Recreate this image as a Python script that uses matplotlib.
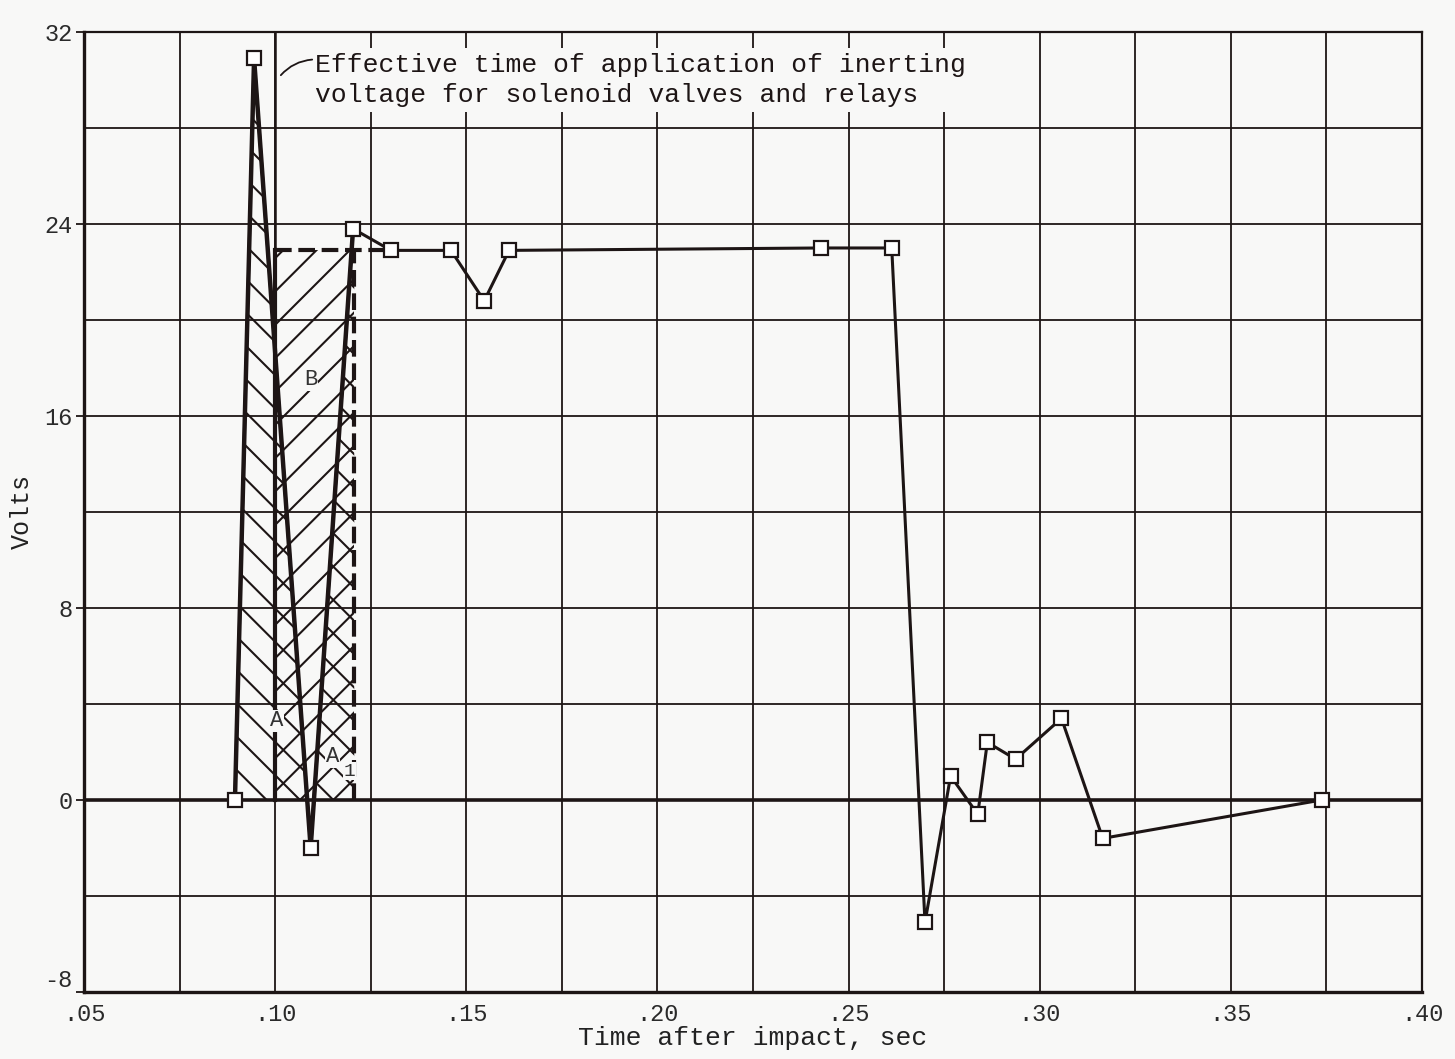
import numpy as np
import matplotlib
matplotlib.use("Agg")
import matplotlib.pyplot as plt
from matplotlib.patches import Polygon, Rectangle

# Voltage measured across the inerting circuit after impact
time_s = [0.0895, 0.0945, 0.1093, 0.1204, 0.1303, 0.1460, 0.1547, 0.1612,
          0.2428, 0.2613, 0.2700, 0.2767, 0.2838, 0.2863, 0.2937, 0.3057,
          0.3165, 0.3738]
volts = [0.0, 30.9, -2.0, 23.8, 22.9, 22.9, 20.8, 22.9,
         23.0, 23.0, -5.1, 1.0, -0.6, 2.4, 1.7, 3.4,
         -1.6, 0.0]

# Equivalent rectangular pulse (area B) starting at the effective time
t_effective = 0.10
t_pulse_end = 0.1207
v_pulse = 22.9

x_ticks = [0.05, 0.10, 0.15, 0.20, 0.25, 0.30, 0.35, 0.40]
x_tick_labels = [".05", ".10", ".15", ".20", ".25", ".30", ".35", ".40"]
y_ticks = [-8, 0, 8, 16, 24, 32]
y_tick_labels = ["-8", "0", "8", "16", "24", "32"]
x_label = "Time after impact, sec"
y_label = "Volts"
note = ("Effective time of application of inerting\n"
        "voltage for solenoid valves and relays")

INK = "#1d1515"
PAPER = "#f8f8f7"
MONO = "Liberation Mono"

plt.rcParams["font.family"] = [MONO, "DejaVu Sans Mono"]
plt.rcParams["hatch.linewidth"] = 1.5

fig = plt.figure(figsize=(14.55, 10.59), dpi=100, facecolor=PAPER)
ax = fig.add_axes([0.0577, 0.0633, 0.9196, 0.9065], facecolor=PAPER)
ax.set_xlim(0.05, 0.40)
ax.set_ylim(-8, 32)

# graph-paper grid
ax.set_xticks(x_ticks)
ax.set_xticklabels(x_tick_labels)
ax.set_xticks(np.arange(0.075, 0.40, 0.05), minor=True)
ax.set_yticks(y_ticks)
ax.set_yticklabels(y_tick_labels)
ax.set_yticks(np.arange(-4, 32, 8), minor=True)
ax.grid(which="both", color=INK, linewidth=1.3, zorder=1)
ax.set_axisbelow(True)
ax.tick_params(axis="x", which="both", length=0, pad=8,
               labelsize=17, labelcolor="#2a2a2a")
ax.tick_params(axis="y", which="major", length=6, width=1.3, color=INK,
               pad=2, labelsize=17, labelcolor="#2a2a2a")
ax.tick_params(axis="y", which="minor", length=0)
# lift the lowest volt label a little clear of the time labels
ax.get_yticklabels()[0].set_verticalalignment("bottom")
for side, lw in (("left", 2.4), ("bottom", 2.4), ("top", 1.6), ("right", 1.6)):
    ax.spines[side].set_color(INK)
    ax.spines[side].set_linewidth(lw)

ax.axhline(0, color=INK, linewidth=2.6, zorder=2)

# Area A: the initial voltage spike
t_cross = np.interp(0.0, [volts[2], volts[1]], [time_s[2], time_s[1]])
area_a = Polygon([(time_s[0], 0.0), (time_s[1], volts[1]), (t_cross, 0.0)],
                 closed=True, fill=False, hatch="\\", edgecolor=INK,
                 linewidth=0, zorder=3)
ax.add_patch(area_a)

# Area B: equivalent rectangular pulse
area_b = Rectangle((t_effective, 0.0), t_pulse_end - t_effective, v_pulse,
                   fill=False, hatch="/", edgecolor=INK, linewidth=0, zorder=3)
ax.add_patch(area_b)

# Area A1: rise of the supply voltage before the end of the pulse
t_rise0 = np.interp(0.0, [volts[2], volts[3]], [time_s[2], time_s[3]])
t_rise1 = np.interp(v_pulse, [volts[2], volts[3]], [time_s[2], time_s[3]])
area_a1 = Polygon([(t_rise0, 0.0), (t_rise1, v_pulse),
                   (t_pulse_end, v_pulse), (t_pulse_end, 0.0)],
                  closed=True, fill=False, hatch="\\", edgecolor=INK,
                  linewidth=0, zorder=3)
ax.add_patch(area_a1)

# effective-time line and pulse outline
ax.plot([t_effective, t_effective], [0, 32], color=INK, linewidth=1.8, zorder=4)
ax.plot([t_effective, t_effective], [0, v_pulse], color=INK, linewidth=3.0,
        zorder=4)
ax.plot([t_effective, time_s[4]], [v_pulse, v_pulse], color=INK,
        linewidth=3.0, linestyle=(0, (4, 1.6)), zorder=4)
ax.plot([t_pulse_end, t_pulse_end], [0, v_pulse], color=INK,
        linewidth=3.0, linestyle=(0, (4, 1.6)), zorder=4)

# measured voltage trace
ax.plot(time_s[:4], volts[:4], color=INK, linewidth=3.2, zorder=5)
ax.plot(time_s, volts, color=INK, linewidth=2.2, marker="s", markersize=10,
        markerfacecolor="white", markeredgecolor=INK, markeredgewidth=1.6,
        zorder=6)

# area labels
label_box = dict(facecolor=PAPER, edgecolor="none", pad=0.5)
ax.text(0.1094, 17.5, "B", fontsize=16, color="#333333", ha="center",
        va="center", bbox=label_box, zorder=7)
ax.text(0.1005, 3.3, "A", fontsize=16, color="#333333", ha="center",
        va="center", bbox=label_box, zorder=7)
ax.text(0.1150, 1.8, "A", fontsize=16, color="#333333", ha="center",
        va="center", bbox=label_box, zorder=7)
ax.text(0.1195, 1.2, "1", fontsize=14, color="#333333", ha="center",
        va="center", bbox=label_box, zorder=7)

# note on the effective time
ax.text(0.1104, 30.0, note, fontsize=19, color=INK, ha="left", va="center",
        linespacing=1.35,
        bbox=dict(facecolor=PAPER, edgecolor="none", pad=3), zorder=7)
ax.annotate("", xy=(t_effective + 0.0015, 30.2), xytext=(0.1097, 30.85),
            arrowprops=dict(arrowstyle="-", color=INK, linewidth=1.3,
                            shrinkA=0, shrinkB=0,
                            connectionstyle="arc3,rad=0.2"),
            zorder=7)

ax.set_xlabel(x_label, fontsize=19, color="#222222", labelpad=0)
ax.set_ylabel(y_label, fontsize=18, color="#222222", labelpad=8)

fig.savefig("out.png", dpi=100, facecolor=PAPER)
